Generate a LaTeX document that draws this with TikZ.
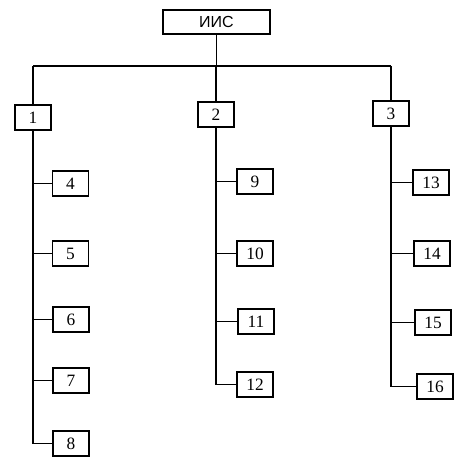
\documentclass[tikz,border=0pt]{standalone}
\usepackage{fontspec}
\setmainfont{Liberation Serif}
\newfontfamily\headfont{Liberation Sans}
\usetikzlibrary{calc, positioning}

\begin{document}
\begin{tikzpicture}[x=0.75pt, y=-0.75pt, line width=0.8pt,
  box/.style={draw, fill=white, minimum width=27pt, minimum height=18.75pt,
    inner sep=0pt, font=\fontsize{13}{13}\selectfont},
  headbox/.style={box, minimum width=80.25pt, minimum height=18pt,
    font=\headfont\fontsize{12}{12}\selectfont}]
\useasboundingbox (0,0) rectangle (467,460);

\node[headbox] (iis) at (216.5,22) {ИИС};
\coordinate (busL) at (33,66);
\coordinate (busR) at (391,66);

\node[box] (n1) at (33,117.5) {1};
\node[box] (n2) at (216,114.5) {2};
\node[box] (n3) at (391,113.5) {3};

\node[box] (n4) at (70.5,183.5) {4};
\node[box] (n5) at (70.5,253.5) {5};
\node[box] (n6) at (71,319.5) {6};
\node[box] (n7) at (71,380.5) {7};
\node[box] (n8) at (71,443.5) {8};

\node[box] (n9) at (255,181.5) {9};
\node[box] (n10) at (255,253.5) {10};
\node[box] (n11) at (256,321.5) {11};
\node[box] (n12) at (255,384.5) {12};

\node[box] (n13) at (431,182.5) {13};
\node[box] (n14) at (432,253.5) {14};
\node[box] (n15) at (433,322.5) {15};
\node[box] (n16) at (435,386.5) {16};

% top level
\draw (iis) -- (iis |- busL);
\draw (busL) -- (busR);
\draw (busL) -- (n1);
\draw (n2 |- busL) -- (n2);
\draw (busR) -- (n3);

% trunks
\draw (n1) -- (n1 |- n8.west);
\draw (n2) -- (n2 |- n12.west);
\draw (n3) -- (n3 |- n16.west);

% branches
\draw (n1 |- n4.west) -- (n4);
\draw (n1 |- n5.west) -- (n5);
\draw (n1 |- n6.west) -- (n6);
\draw (n1 |- n7.west) -- (n7);
\draw (n1 |- n8.west) -- (n8);
\draw (n2 |- n9.west) -- (n9);
\draw (n2 |- n10.west) -- (n10);
\draw (n2 |- n11.west) -- (n11);
\draw (n2 |- n12.west) -- (n12);
\draw (n3 |- n13.west) -- (n13);
\draw (n3 |- n14.west) -- (n14);
\draw (n3 |- n15.west) -- (n15);
\draw (n3 |- n16.west) -- (n16);
\end{tikzpicture}
\end{document}
